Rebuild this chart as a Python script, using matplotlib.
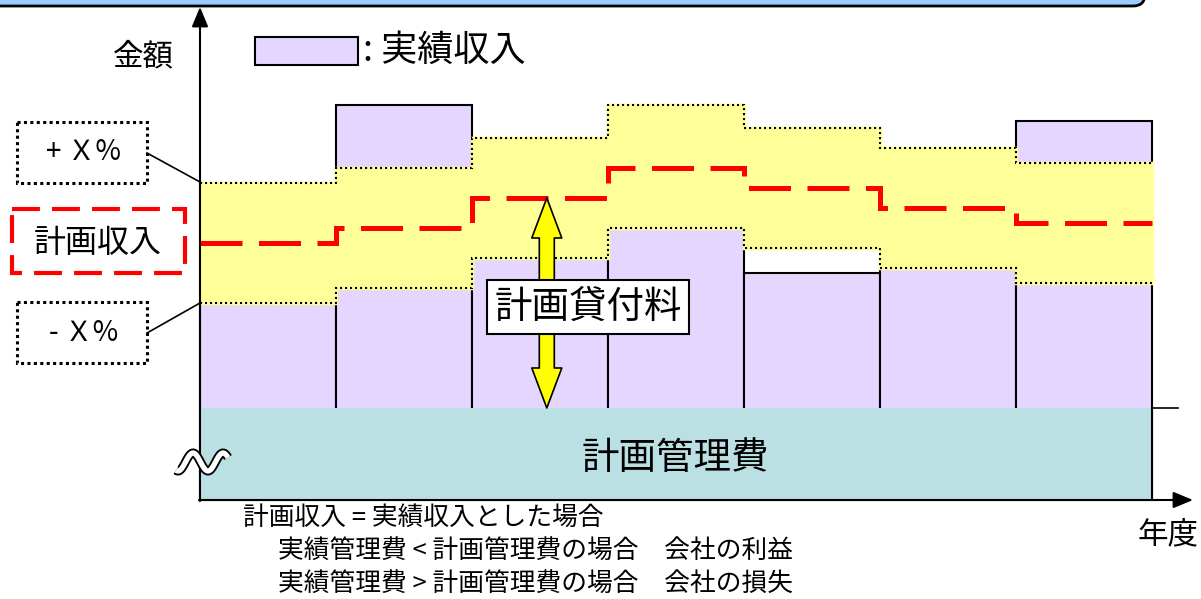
import numpy as np
import matplotlib.pyplot as plt
from matplotlib.patches import Rectangle, FancyBboxPatch, FancyArrowPatch

plt.rcParams['font.family'] = ['Noto Sans CJK JP', 'DejaVu Sans']

# データ（金額は x 軸からの高さ、年度ごと）
years = np.arange(7)
kanri = [92, 92, 92, 92, 92, 92, 92]           # 計画管理費
jisseki = [197, 395, 242, 272, 227, 232, 379]  # 実績収入
keikaku = [257, 272, 302, 332, 312, 292, 277]  # 計画収入
upper = [317, 332, 362, 395, 372, 352, 337]    # + X%
lower = [197, 212, 242, 272, 252, 232, 217]    # - X%
arrow_year = 2.55                              # 計画貸付料の矢印の位置

PURPLE = '#E5D6FF'
YELLOW = '#FFFF99'
TEAL = '#BBE0E3'
BLUE = '#99CCFF'

fig = plt.figure(figsize=(12.01, 5.99), dpi=100)

# グラフ本体
ax = fig.add_axes([0, 0, 1, 1])
ax.set_xlim(-200 / 136, 1001 / 136)
ax.set_ylim(-99, 500)
ax.axis('off')

edges = np.arange(len(years) + 1)
ax.bar(years, jisseki, width=1, align='edge', color=PURPLE,
       edgecolor='black', linewidth=1.5, zorder=1)
ax.stairs(kanri, edges, baseline=0, fill=True, color=TEAL, zorder=1.5)
ax.vlines(edges[-1], 0, kanri[-1], color='black', lw=1.5, zorder=1.6)

# ±X% の帯
ax.stairs(upper, edges, baseline=lower, fill=True, facecolor=YELLOW,
          edgecolor=YELLOW, linewidth=2.5, zorder=2)
for band in (upper, lower):
    ax.stairs(band, edges, baseline=None, color='black', linewidth=1.5,
              linestyle=(0, (1, 1.4)), zorder=3)

# 計画収入
ax.stairs(keikaku, edges, baseline=None, color='red', linewidth=3.6,
          linestyle=(0, (8.4, 3.3)), zorder=4)

# 計画貸付料の矢印
mid = (kanri[2] + keikaku[2]) / 2
for end in (keikaku[2], kanri[2]):
    ax.add_patch(FancyArrowPatch(
        (arrow_year, mid), (arrow_year, end),
        arrowstyle='simple,head_length=28.8,head_width=21.6,tail_width=10.8',
        mutation_scale=1, shrinkA=0, shrinkB=0,
        facecolor='yellow', edgecolor='black', linewidth=1.2, zorder=5))

# 図の飾り（ピクセル座標）
deco = fig.add_axes([0, 0, 1, 1])
deco.set_xlim(0, 1201)
deco.set_ylim(599, 0)
deco.axis('off')

deco.add_patch(FancyBboxPatch((-30, -40), 1175, 46,
                              boxstyle='round,pad=0,rounding_size=12',
                              fc=BLUE, ec='black', lw=2))

arrow_kw = dict(arrowstyle='-|>,head_length=12,head_width=5', mutation_scale=1,
                lw=1.5, color='black', shrinkA=0, shrinkB=0)
deco.annotate('', xy=(200, 7), xytext=(200, 501), arrowprops=arrow_kw)
deco.annotate('', xy=(1193, 500), xytext=(199, 500), arrowprops=arrow_kw)
deco.plot([1152, 1178], [408, 408], color='black', lw=1.2)

# 省略記号
wx = np.linspace(176, 228, 80)
wy = 462 - 9 * np.sin(2 * np.pi * (wx - 185.5) / 30)
deco.plot(wx, wy, color='black', lw=6.5, solid_capstyle='butt', zorder=6)
deco.plot(wx, wy, color='white', lw=3.8, solid_capstyle='butt', zorder=7)

deco.text(143, 57, '金額', fontsize=22, ha='center', va='center')
deco.text(1168, 535, '年度', fontsize=22, ha='center', va='center')

# 凡例
deco.add_patch(Rectangle((255, 37), 103, 28, fc=PURPLE, ec='black', lw=1.5))
deco.text(363, 51, ': 実績収入', fontsize=26, ha='left', va='center')

# 左側のラベル
dots = (0, (1, 1.1))
deco.add_patch(Rectangle((17, 122), 130, 61, fill=False, ec='black', lw=2.2, ls=dots))
deco.text(84, 152, '+ Ｘ%', fontsize=20, ha='center', va='center')
deco.plot([147, 200], [153, 182], color='black', lw=1.2)

deco.add_patch(Rectangle((12, 209), 173, 64, fill=False, ec='red', lw=3, ls=(0, (6.7, 2.9))))
deco.text(98, 243, '計画収入', fontsize=23, ha='center', va='center')

deco.add_patch(Rectangle((17, 302), 130, 61, fill=False, ec='black', lw=2.2, ls=dots))
deco.text(84, 333, '- Ｘ%', fontsize=20, ha='center', va='center')
deco.plot([147, 200], [333, 303], color='black', lw=1.2)

deco.text(588, 307, '計画貸付料', fontsize=27, ha='center', va='center', zorder=8,
          bbox=dict(boxstyle='square,pad=0.2', fc='white', ec='black', lw=1.5))
deco.text(675, 458, '計画管理費', fontsize=27, ha='center', va='center')

# 注記
deco.text(243, 518, '計画収入 = 実績収入とした場合', fontsize=18.5, va='center')
deco.text(278, 552, '実績管理費 < 計画管理費の場合　会社の利益', fontsize=18.5, va='center')
deco.text(278, 585, '実績管理費 > 計画管理費の場合　会社の損失', fontsize=18.5, va='center')

fig.savefig('out.png', dpi=100)
